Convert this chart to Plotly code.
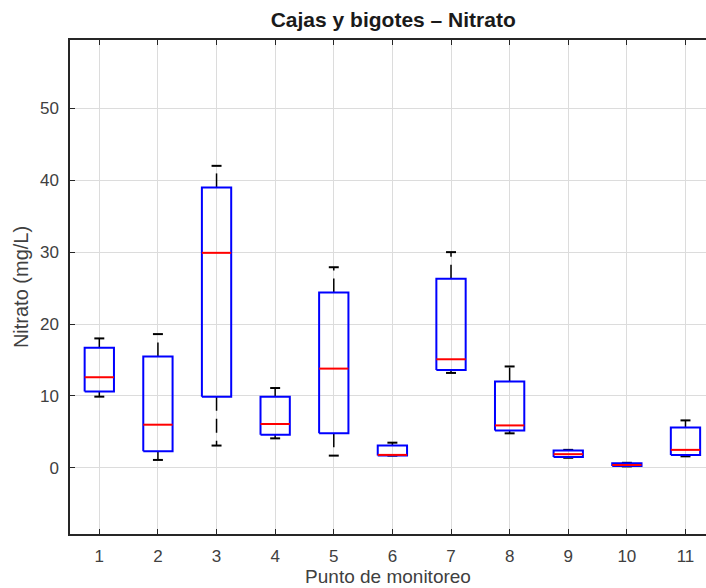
import plotly.graph_objects as go

puntos = [1, 2, 3, 4, 5, 6, 7, 8, 9, 10, 11]
bigote_inf = [9.9, 1.1, 3.1, 4.1, 1.7, 1.7, 13.2, 4.8, 1.4, 0.2, 1.6]
q1 = [10.6, 2.3, 9.9, 4.6, 4.8, 1.7, 13.6, 5.2, 1.5, 0.24, 1.8]
mediana = [12.6, 6.0, 29.9, 6.1, 13.8, 1.8, 15.1, 5.9, 1.9, 0.4, 2.5]
q3 = [16.7, 15.5, 39.0, 9.9, 24.4, 3.1, 26.3, 12.0, 2.4, 0.65, 5.6]
bigote_sup = [18.0, 18.6, 42.0, 11.1, 27.9, 3.5, 30.0, 14.1, 2.5, 0.7, 6.6]

HW = 0.25   # half box width
CW = 0.085  # half cap width

fig = go.Figure()

bx, by, wx, wy, cx, cy, mx, my = [], [], [], [], [], [], [], []
for x, lo, a, m, b, hi in zip(puntos, bigote_inf, q1, mediana, q3, bigote_sup):
    bx += [x - HW, x + HW, x + HW, x - HW, x - HW, None]
    by += [a, a, b, b, a, None]
    wx += [x, x, None, x, x, None]
    wy += [b, hi, None, a, lo, None]
    cx += [x - CW, x + CW, None, x - CW, x + CW, None]
    cy += [hi, hi, None, lo, lo, None]
    mx += [x - HW, x + HW, None]
    my += [m, m, None]

fig.add_trace(go.Scatter(x=wx, y=wy, mode="lines",
                         line=dict(color="black", width=1.5, dash="14px,8px"),
                         hoverinfo="skip", showlegend=False))
fig.add_trace(go.Scatter(x=cx, y=cy, mode="lines",
                         line=dict(color="black", width=2),
                         hoverinfo="skip", showlegend=False))
fig.add_trace(go.Scatter(x=bx, y=by, mode="lines",
                         line=dict(color="#0000ff", width=2),
                         hoverinfo="skip", showlegend=False))
fig.add_trace(go.Scatter(x=mx, y=my, mode="lines",
                         line=dict(color="#ff0000", width=2),
                         hoverinfo="skip", showlegend=False))

FONT = "Liberation Sans, Arial, sans-serif"

axis_common = dict(
    showline=True, linecolor="#262626", linewidth=1.5,
    ticks="inside", ticklen=5, tickcolor="#262626",
    showgrid=True, gridcolor="#dcdcdc", gridwidth=1,
    zeroline=False,
    tickfont=dict(family=FONT, size=17, color="#404040"),
)

# top frame line and mirrored ticks via a second x axis overlaying the first
fig.add_trace(go.Scatter(x=[puntos[0]], y=[mediana[0]], xaxis="x2", mode="markers",
                         marker=dict(opacity=0), hoverinfo="skip", showlegend=False))

fig.update_layout(
    width=706, height=588,
    margin=dict(l=70, r=0, t=40, b=54),
    paper_bgcolor="white", plot_bgcolor="white",
    title=dict(text="<b>Cajas y bigotes – Nitrato</b>", x=0.557, xanchor="center",
               xref="container", y=0.966, yref="container", yanchor="middle",
               font=dict(family=FONT, size=21, color="#1a1a1a")),
    xaxis=dict(range=[0.5, 11.35], tickvals=puntos, ticktext=[str(p) for p in puntos],
               ticklabelstandoff=6,
               title=dict(text="Punto de monitoreo", standoff=5,
                          font=dict(family=FONT, size=19, color="#404040")),
               **axis_common),
    xaxis2=dict(range=[0.5, 11.35], tickvals=puntos, overlaying="x", side="top",
                showticklabels=False, showline=True, linecolor="#262626", linewidth=1.5,
                ticks="inside", ticklen=5, tickcolor="#262626",
                showgrid=False, zeroline=False),
    yaxis=dict(range=[-9.2, 59.5], tickvals=[0, 10, 20, 30, 40, 50],
               ticklabelstandoff=6,
               title=dict(text="Nitrato (mg/L)", standoff=6,
                          font=dict(family=FONT, size=20, color="#404040")),
               **axis_common),
)

fig.write_html("out.html")
